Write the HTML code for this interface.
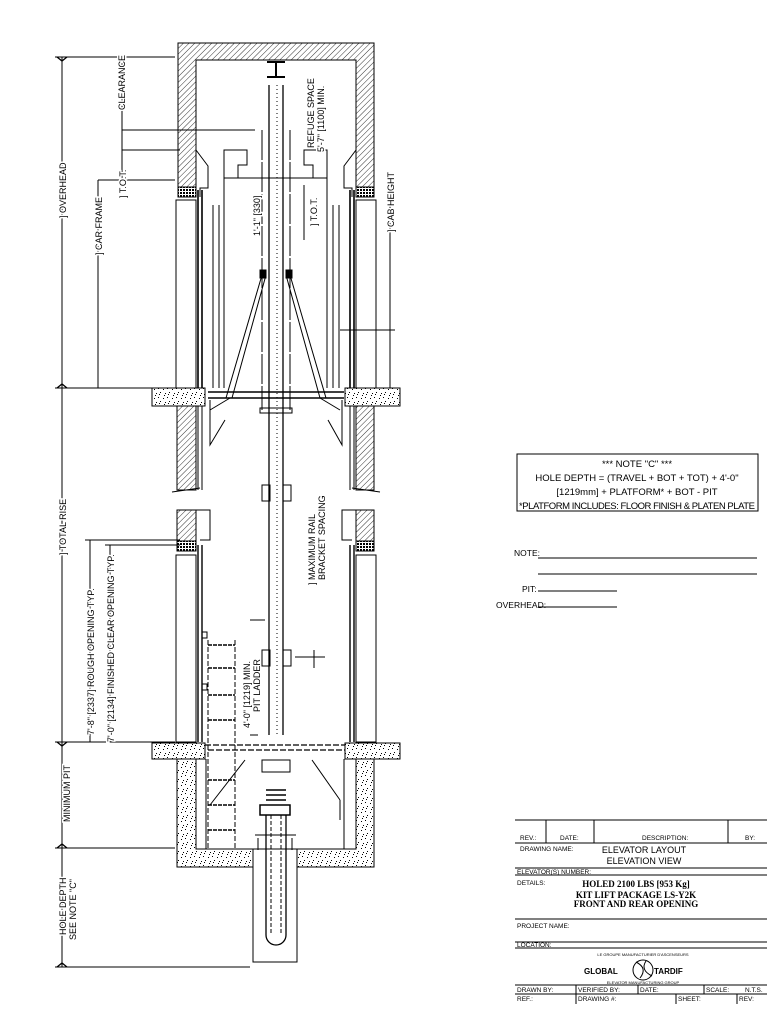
<!DOCTYPE html>
<html><head><meta charset="utf-8"><style>
html,body{margin:0;padding:0;background:#fff;}
svg{display:block;}
text{font-family:"Liberation Sans Narrow","Liberation Sans",sans-serif;fill:#000;}
.hl text{paint-order:stroke;stroke:#fff;stroke-width:3px;}
</style></head><body>
<svg width="768" height="1024" viewBox="0 0 768 1024" xmlns="http://www.w3.org/2000/svg">
<defs>
<pattern id="h" width="4" height="4" patternUnits="userSpaceOnUse" patternTransform="rotate(45)">
<line x1="0" y1="0" x2="0" y2="4" stroke="#000" stroke-width="0.8"/></pattern>
<pattern id="x" width="3" height="3" patternUnits="userSpaceOnUse">
<rect width="3" height="3" fill="#fff"/><rect width="2" height="2" fill="#000"/></pattern>
<pattern id="c" width="9" height="9" patternUnits="userSpaceOnUse">
<rect width="9" height="9" fill="#fff"/><rect x="1" y="2" width="1" height="1" fill="#000"/><rect x="5" y="1" width="1" height="1" fill="#000"/><rect x="7" y="5" width="1" height="1" fill="#000"/><rect x="3" y="6" width="1" height="1" fill="#000"/><rect x="2" y="8" width="1" height="1" fill="#000"/><rect x="6" y="7" width="1" height="1" fill="#000"/></pattern>
</defs>
<g fill="none" stroke="#000" stroke-width="1">
<path d="M178,43 H374 V188 H356 V60 H196 V188 H178 Z" fill="url(#h)"/>
<rect x="178" y="187" width="18" height="10" fill="url(#x)"/>
<rect x="356" y="187" width="18" height="10" fill="url(#x)"/>
<path d="M196,150 L208,166 V188 H200 V197"/>
<path d="M356,150 L344,166 V188 H352 V197"/>
<rect x="176" y="200" width="20" height="188"/>
<rect x="356" y="200" width="20" height="188"/>
<path d="M198,190 V388 M202,190 V388 M350,190 V388 M354,190 V388" stroke-width="1.6"/>
<path d="M213,205 V388 M219,205 V388 M333,205 V388 M339,205 V388"/>
<path d="M224,150 H247 V165 H238 V178 H224 Z M224,178 V388"/>
<path d="M327,150 H304 V165 H313 V178 H327 Z M327,178 V388"/>
<path d="M224,178 H327"/>
<path d="M304,185 V240 M340,330 H395"/>
<path d="M269,85 V735 M283,85 V735" stroke-width="1.3"/>
<path d="M277,85 V735" stroke-dasharray="1 3"/>
<path d="M267,62 H285 M267,77 H285 M276,62 V77" stroke-width="2"/>
<path d="M262,130 V410 M290,130 V410" stroke-dasharray="30 2"/>
<path d="M262,275 L226,398 M266,275 L232,398 M290,275 L326,398 M286,275 L320,398"/>
<rect x="260" y="270" width="6" height="8" fill="#000"/><rect x="286" y="270" width="6" height="8" fill="#000"/>
<path d="M208,392 H344 M208,398 H344" stroke-width="1.4"/>
<path d="M210,410 L230,398 M340,410 L320,398 M210,400 V445 L225,420 M342,400 V445 L328,420"/>
<rect x="260" y="408" width="32" height="5"/>
<rect x="152" y="388" width="53" height="18" fill="url(#c)"/>
<rect x="345" y="388" width="55" height="18" fill="url(#c)"/>
<rect x="177" y="406" width="19" height="84" fill="url(#h)"/>
<rect x="356" y="406" width="18" height="84" fill="url(#h)"/>
<path d="M198,406 V490 M202,406 V490 M350,406 V490 M354,406 V490"/>
<path d="M172,492 L200,488 M352,488 L380,492"/>
<rect x="177" y="510" width="19" height="32" fill="url(#h)"/>
<rect x="356" y="510" width="18" height="32" fill="url(#h)"/>
<rect x="177" y="541" width="19" height="10" fill="url(#x)"/>
<rect x="356" y="541" width="18" height="10" fill="url(#x)"/>
<path d="M196,510 H210 V540 H200 M356,510 H342 V540 H352"/>
<rect x="176" y="555" width="20" height="187"/>
<rect x="356" y="555" width="20" height="187"/>
<path d="M198,545 V742 M202,545 V742 M350,545 V742 M354,545 V742" stroke-width="1.4"/>
<rect x="262" y="485" width="8" height="16"/><rect x="283" y="485" width="8" height="16"/>
<rect x="262" y="650" width="8" height="16"/><rect x="283" y="650" width="8" height="16"/>
<path d="M295,657 H325 M314,650 V668"/>
<path d="M208,640 V850 M235,640 V850" stroke-dasharray="5 2"/>
<path d="M208,645 H235 M208,668 H235 M208,695 H235 M208,720 H235 M208,780 H235 M208,805 H235 M208,830 H235" stroke-dasharray="4 1" stroke-width="1.4"/>
<rect x="202" y="632" width="5" height="6"/><rect x="202" y="684" width="5" height="6"/>
<path d="M250,620 H265 M250,735 H258"/>
<rect x="152" y="743" width="53" height="16" fill="url(#c)"/>
<rect x="345" y="743" width="55" height="16" fill="url(#c)"/>
<path d="M205,745 H345 M208,750 H345" stroke-dasharray="6 2" stroke-width="1.3"/>
<path d="M177,759 H196 V849 H253 V867 H177 Z" fill="url(#c)"/>
<path d="M374,759 H356 V849 H297 V867 H374 Z" fill="url(#c)"/>
<path d="M206,759 V849 M344,759 V849"/>
<path d="M210,805 L245,760 M340,800 L312,760 M340,800 V820"/>
<rect x="262" y="760" width="28" height="12"/>
<rect x="253" y="849" width="44" height="113"/>
<path d="M266,790 H286 M266,795 H286 M266,800 H286 M260,805 H290 V815 H260 Z" stroke-width="1.5"/>
<path d="M266,815 V935 A10,10 0 0 0 286,935 V815" stroke-width="1.3"/>
<path d="M271,815 V935 M281,815 V935" stroke-dasharray="4 2"/>
<path d="M255,835 H296 M258,838 V850 M292,838 V850"/>
<path d="M62,57 V967 M55,57 H175 M55,388 H175 M55,742 H175 M55,848 H175 M55,967 H250"/>
<path d="M98,180 V388 M98,180 H175 M122,57 V180 M122,150 H180 M122,130 H255"/>
<path d="M90,540 V742 M110,545 V742 M85,540 H180 M105,545 H180"/>
<path d="M57,57 l5,4 l5,-4 M57,388 l5,-4 l5,4 M57,742 l5,4 l5,-4 M57,848 l5,-4 l5,4 M57,967 l5,-4 l5,4" stroke-width="1.3"/>
<path d="M390,185 V388"/>
</g>
<g font-size="9" class="hl">
<text transform="translate(66,218) rotate(-90)">] OVERHEAD</text>
<text transform="translate(102,255) rotate(-90)">] CAR FRAME</text>
<text transform="translate(125,110) rotate(-90)">CLEARANCE</text>
<text transform="translate(126,198) rotate(-90)">] T.O.T.</text>
<text transform="translate(66,555) rotate(-90)">] TOTAL RISE</text>
<text transform="translate(94,735) rotate(-90)">7'-8" [2337] ROUGH OPENING TYP.</text>
<text transform="translate(114,742) rotate(-90)">7'-0" [2134] FINISHED CLEAR OPENING TYP.</text>
<text transform="translate(70,822) rotate(-90)">MINIMUM PIT</text>
<text transform="translate(66,935) rotate(-90)">HOLE DEPTH</text>
<text transform="translate(76,940) rotate(-90)">SEE NOTE "C"</text>
<text transform="translate(260,236) rotate(-90)">1'-1" [330]</text>
<text transform="translate(314,148) rotate(-90)">REFUGE SPACE</text>
<text transform="translate(324,152) rotate(-90)">5'-7" [1100] MIN.</text>
<text transform="translate(317,226) rotate(-90)">] T.O.T.</text>
<text transform="translate(394,232) rotate(-90)">] CAB HEIGHT</text>
<text transform="translate(315,585) rotate(-90)">] MAXIMUM RAIL</text>
<text transform="translate(325,580) rotate(-90)">BRACKET SPACING</text>
<text transform="translate(250,728) rotate(-90)">4'-0" [1219] MIN.</text>
<text transform="translate(260,712) rotate(-90)">PIT LADDER</text>
</g>
<rect x="517" y="454" width="241" height="57" fill="none" stroke="#000"/>
<g font-size="9.5" text-anchor="middle">
<text x="637" y="467">*** NOTE "C" ***</text>
<text x="637" y="481">HOLE DEPTH = (TRAVEL + BOT + TOT) + 4'-0"</text>
<text x="637" y="495">[1219mm] + PLATFORM* + BOT - PIT</text>
<text x="637" y="509" textLength="236">*PLATFORM INCLUDES: FLOOR FINISH &amp; PLATEN PLATE</text>
</g>
<g font-size="8.5">
<text x="514" y="556">NOTE:</text>
<text x="522" y="592">PIT:</text>
<text x="496" y="608">OVERHEAD:</text>
</g>
<path d="M538,558 H757 M538,574 H757 M538,591 H617 M538,607 H617" stroke="#000" fill="none"/>
<g stroke="#000" fill="none">
<path d="M515,820 H767 M515,843 H767 M515,868 H767 M515,875 H767 M515,919 H767 M515,942 H767 M515,948 H767 M515,985 H767 M515,994 H767"/>
<path d="M546,820 V843 M594,820 V843 M728,820 V843 M576,985 V1004 M638,985 V994 M704,985 V994 M676,994 V1004 M737,994 V1004"/>
<circle cx="643" cy="970" r="10"/>
<path d="M636,962 Q648,968 640,978 M646,961 Q640,970 652,976"/>
</g>
<g font-size="6.5">
<text x="520" y="840">REV.:</text><text x="560" y="840">DATE:</text><text x="642" y="840">DESCRIPTION:</text><text x="745" y="840">BY:</text>
<text x="520" y="851">DRAWING NAME:</text>
<text x="517" y="874">ELEVATOR(S) NUMBER:</text>
<text x="517" y="885">DETAILS:</text>
<text x="517" y="928">PROJECT NAME:</text>
<text x="517" y="947">LOCATION:</text>
<text x="517" y="992">DRAWN BY:</text><text x="578" y="992">VERIFIED BY:</text><text x="640" y="992">DATE:</text><text x="706" y="992">SCALE:</text><text x="745" y="992">N.T.S.</text>
<text x="517" y="1001">REF.:</text><text x="578" y="1001">DRAWING #:</text><text x="678" y="1001">SHEET:</text><text x="739" y="1001">REV:</text>
</g>
<g font-size="4" text-anchor="middle"><text x="643" y="956">LE GROUPE MANUFACTURIER D'ASCENSEURS</text><text x="643" y="984">ELEVATOR MANUFACTURING GROUP</text></g>
<g font-size="9" text-anchor="middle">
<text x="644" y="853">ELEVATOR LAYOUT</text>
<text x="644" y="864">ELEVATION VIEW</text>
</g>
<g font-size="9" font-weight="bold" text-anchor="middle">
<text x="636" y="887" style="font-family:'Liberation Serif',serif">HOLED 2100 LBS [953 Kg]</text>
<text x="636" y="898" style="font-family:'Liberation Serif',serif">KIT LIFT PACKAGE LS-Y2K</text>
<text x="636" y="907" style="font-family:'Liberation Serif',serif">FRONT AND REAR OPENING</text>
</g>
<g font-size="8" font-weight="bold">
<text x="584" y="974">GLOBAL</text><text x="654" y="974">TARDIF</text>
</g>
</svg>
</body></html>
